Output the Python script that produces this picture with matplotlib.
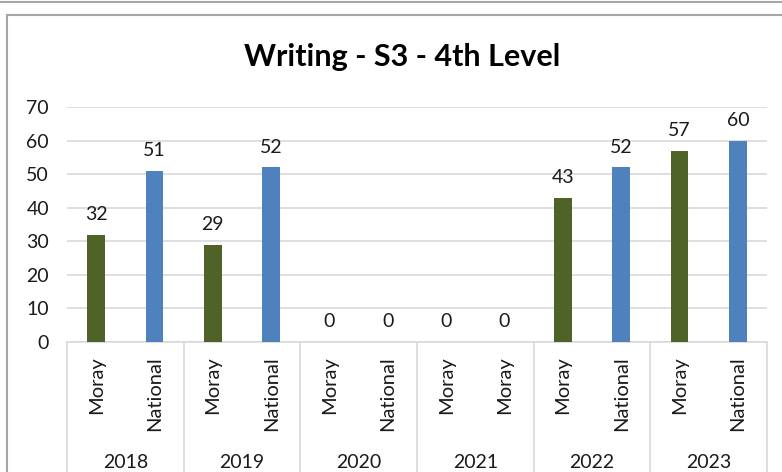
import matplotlib
matplotlib.use("Agg")
import matplotlib.pyplot as plt
from matplotlib.lines import Line2D
from matplotlib.patches import Rectangle

plt.rcParams['font.family'] = ['Lato', 'DejaVu Sans']

years = ["2018", "2019", "2020", "2021", "2022", "2023"]
bar_labels = [["Moray", "National"], ["Moray", "National"], ["Moray", "National"],
              ["Moray", "Moray"], ["Moray", "National"], ["Moray", "National"]]
moray = [32, 29, 0, 0, 43, 57]
national = [51, 52, 0, 0, 52, 60]
title = "Writing - S3 - 4th Level"

green = "#4F6228"
blue = "#4F81BD"
txt = "#1A1A1A"

W, H = 782, 472
fig = plt.figure(figsize=(W / 100, H / 100), dpi=100)
ax = fig.add_axes([67 / W, 130 / H, 700 / W, 235 / H])

n = len(years)
x1 = [2 * i + 0.5 for i in range(n)]
x2 = [2 * i + 1.5 for i in range(n)]
bw = 0.3
ax.bar(x1, moray, width=bw, color=green, zorder=3)
ax.bar(x2, national, width=bw, color=blue, zorder=3)

for xs, vals in ((x1, moray), (x2, national)):
    for x, v in zip(xs, vals):
        ax.annotate(str(v), (x, v), xytext=(0, 8.5), textcoords="offset points",
                    ha="center", va="bottom", fontsize=14, color=txt)

ax.set_xlim(0, 2 * n)
ax.set_ylim(0, 70)
ax.set_yticks(range(0, 71, 10))
ax.yaxis.grid(True, color="#D9D9D9", linewidth=1.2, zorder=0)
ax.set_axisbelow(True)
for s in ["left", "right", "top"]:
    ax.spines[s].set_visible(False)
ax.spines["bottom"].set_color("#D9D9D9")
ax.spines["bottom"].set_linewidth(1.2)
ax.tick_params(axis="y", length=0, labelsize=14, labelcolor=txt, pad=13)

ticks = []
labels = []
for i in range(n):
    ticks += [x1[i], x2[i]]
    labels += bar_labels[i]
ax.set_xticks(ticks)
ax.set_xticklabels(labels, rotation=90, fontsize=14.5, color=txt)
ax.tick_params(axis="x", length=0, pad=10)
for lab in ax.get_xticklabels():
    lab.set_va("top")

# group separators
ybot = -130 / 235
for i in range(n + 1):
    ax.add_line(Line2D([2 * i, 2 * i], [0, ybot], transform=ax.get_xaxis_transform(),
                       color="#D9D9D9", linewidth=1.2, clip_on=False))
for i, y in enumerate(years):
    ax.text(2 * i + 1, (472 - 462) / 235 - 130 / 235, y, transform=ax.get_xaxis_transform(),
            ha="center", va="center", fontsize=14, color=txt)

fig.text(402 / W, 1 - 57 / H, title, ha="center", va="center", fontsize=22,
         fontweight="bold", color="black")

# chart frame
fig.add_artist(Rectangle((7 / W, -0.1), 1.2, 1 - 15 / H + 0.1, transform=fig.transFigure,
                         fill=False, edgecolor="#A6A6A6", linewidth=1.5))
fig.add_artist(Line2D([0, 1], [1 - 2 / H, 1 - 2 / H], transform=fig.transFigure,
                      color="#A6A6A6", linewidth=1.5))

fig.savefig("out.png", dpi=100)
